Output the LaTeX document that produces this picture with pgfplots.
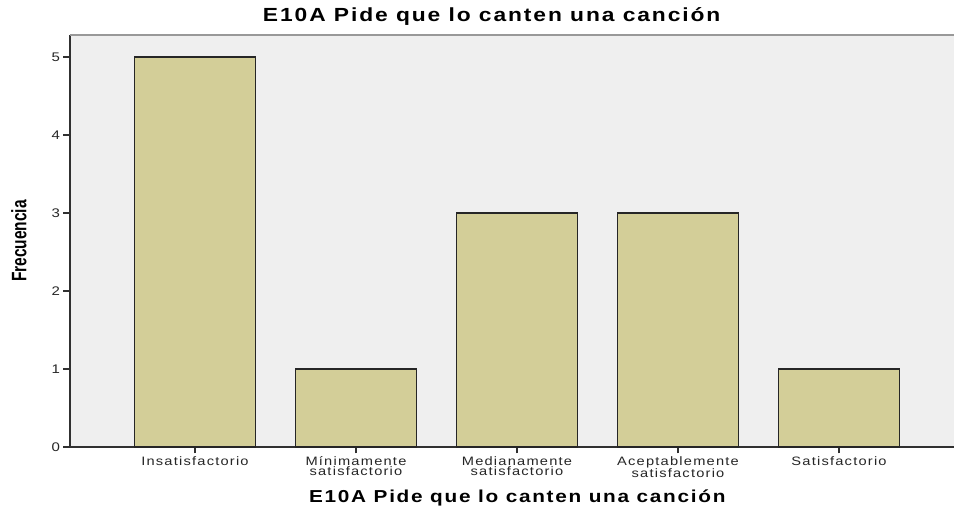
\documentclass[border=0pt]{standalone}
\usepackage{pgfplots}
\pgfplotsset{compat=1.18}
\usepackage{fontspec}
\setmainfont{Liberation Sans}
\newfontfamily\spss[FakeStretch=1.2,LetterSpace=10]{Liberation Sans}
\definecolor{barfill}{HTML}{D3CE98}
\definecolor{bgfill}{HTML}{EFEFEF}
\definecolor{axcol}{HTML}{303030}
\newcommand{\ph}{\vphantom{Mí}}
\begin{document}
\begin{tikzpicture}
\begin{axis}[
  scale only axis,
  width=884pt, height=412pt,
  xmin=-0.776, xmax=4.714,
  ymin=0, ymax=5.282,
  axis lines=left,
  axis line style={-, axcol, line width=1.2pt},
  axis background/.style={fill=bgfill},
  tick align=outside,
  major tick length=6.5pt,
  tick style={axcol, line width=1.2pt},
  ytick={0,1,2,3,4,5},
  xtick=data,
  xticklabels={\ph Insatisfactorio,{\ph Mínimamente\\satisfactorio},{\ph Medianamente\\satisfactorio},{\ph Aceptablemente\\satisfactorio},\ph Satisfactorio},
  xticklabel style={align=center, font={\spss\fontsize{12.2}{10.5}\selectfont}, text=black!85, yshift=1pt},
  yticklabel style={font={\spss\fontsize{12.5}{12}\selectfont}, text=black!85},
  /pgf/number format/assume math mode=true,
  ybar,
  bar width=0.752,
  title={\spss\bfseries\fontsize{19}{21}\selectfont E10A Pide que lo canten una canción},
  title style={at={(axis description cs:0.477,1.0194)}, anchor=base},
  xlabel={\spss\bfseries\fontsize{17.3}{19}\selectfont E10A Pide que lo canten una canción},
  xlabel style={at={(axis description cs:0.506,-0.1335)}, anchor=base},
  ylabel={\scalebox{1}[1.35]{\bfseries\fontsize{15.5}{17}\selectfont Frecuencia}},
  ylabel style={at={(axis description cs:-0.0577,0.5)}, anchor=center},
  clip=false,
]
\addplot[fill=barfill, draw=black!85, line width=1.1pt] coordinates {(0,5) (1,1) (2,3) (3,3) (4,1)};
\draw[black!40, line width=1.8pt] (rel axis cs:0,1) -- (rel axis cs:1,1);
\coordinate (o) at (rel axis cs:0,0);
\end{axis}
\pgfresetboundingbox
\path (o) ++(-70pt,-59pt) rectangle ++(954pt,506pt);
\end{tikzpicture}
\end{document}
